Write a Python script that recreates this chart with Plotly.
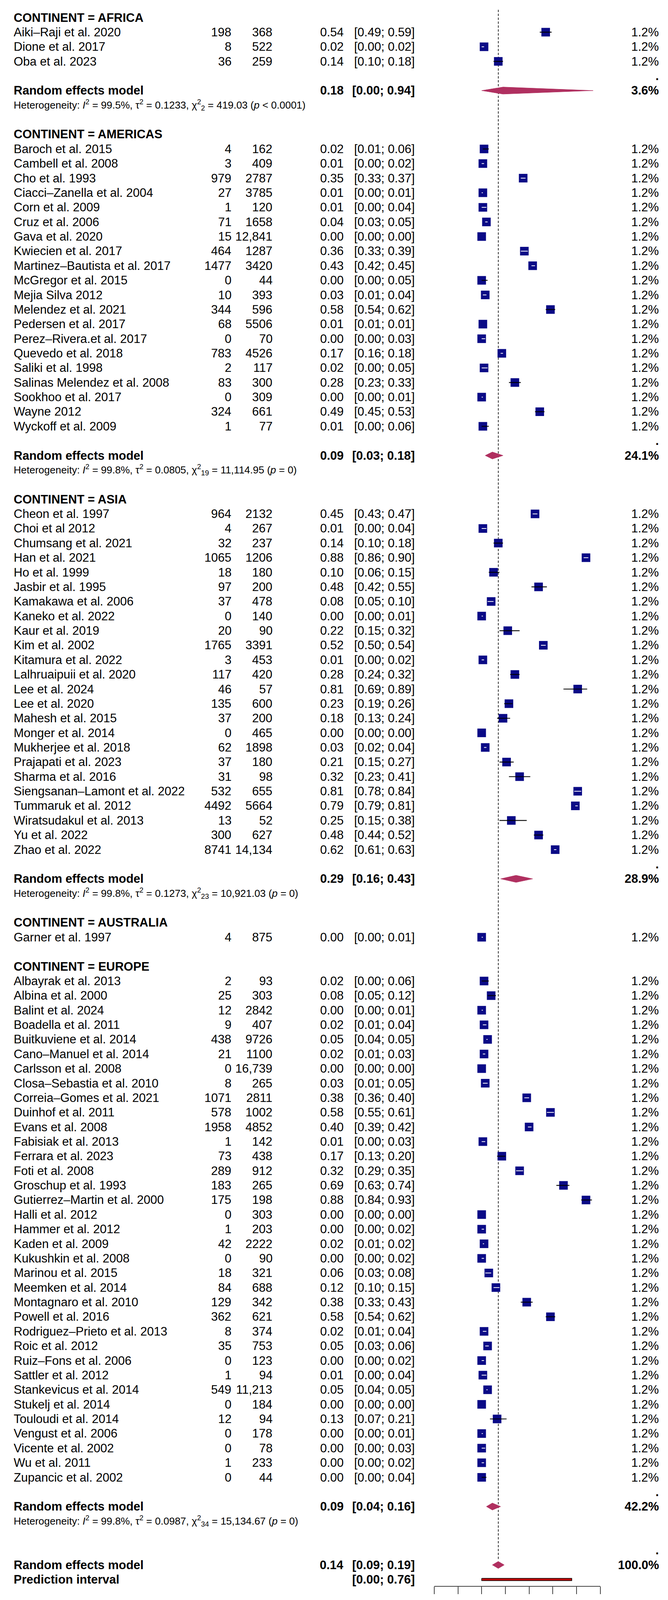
import plotly.graph_objects as go

# ---------------- data ----------------
africa_study = ["Aiki–Raji et al. 2020", "Dione et al. 2017", "Oba et al. 2023"]
africa_events = [198, 8, 36]
africa_total = [368, 522, 259]
africa_prop = [0.54, 0.02, 0.14]
africa_lower = [0.49, 0.00, 0.10]
africa_upper = [0.59, 0.02, 0.18]

americas_study = ["Baroch et al. 2015", "Cambell et al. 2008", "Cho et al. 1993",
                  "Ciacci–Zanella et al. 2004", "Corn et al. 2009", "Cruz et al. 2006",
                  "Gava et al. 2020", "Kwiecien et al. 2017", "Martinez–Bautista et al. 2017",
                  "McGregor et al. 2015", "Mejia Silva 2012", "Melendez et al. 2021",
                  "Pedersen et al. 2017", "Perez–Rivera.et al. 2017", "Quevedo et al. 2018",
                  "Saliki et al. 1998", "Salinas Melendez et al. 2008", "Sookhoo et al. 2017",
                  "Wayne 2012", "Wyckoff et al. 2009"]
americas_events = [4, 3, 979, 27, 1, 71, 15, 464, 1477, 0, 10, 344, 68, 0, 783, 2, 83, 0, 324, 1]
americas_total = [162, 409, 2787, 3785, 120, 1658, 12841, 1287, 3420, 44, 393, 596, 5506, 70,
                  4526, 117, 300, 309, 661, 77]
americas_prop = [0.02, 0.01, 0.35, 0.01, 0.01, 0.04, 0.00, 0.36, 0.43, 0.00, 0.03, 0.58, 0.01,
                 0.00, 0.17, 0.02, 0.28, 0.00, 0.49, 0.01]
americas_lower = [0.01, 0.00, 0.33, 0.00, 0.00, 0.03, 0.00, 0.33, 0.42, 0.00, 0.01, 0.54, 0.01,
                  0.00, 0.16, 0.00, 0.23, 0.00, 0.45, 0.00]
americas_upper = [0.06, 0.02, 0.37, 0.01, 0.04, 0.05, 0.00, 0.39, 0.45, 0.05, 0.04, 0.62, 0.01,
                  0.03, 0.18, 0.05, 0.33, 0.01, 0.53, 0.06]

asia_study = ["Cheon et al. 1997", "Choi et al 2012", "Chumsang et al. 2021", "Han et al. 2021",
              "Ho et al. 1999", "Jasbir et al. 1995", "Kamakawa et al. 2006", "Kaneko et al. 2022",
              "Kaur et al. 2019", "Kim et al. 2002", "Kitamura et al. 2022",
              "Lalhruaipuii et al. 2020", "Lee et al. 2024", "Lee et al. 2020",
              "Mahesh et al. 2015", "Monger et al. 2014", "Mukherjee et al. 2018",
              "Prajapati et al. 2023", "Sharma et al. 2016", "Siengsanan–Lamont et al. 2022",
              "Tummaruk et al. 2012", "Wiratsudakul et al. 2013", "Yu et al. 2022",
              "Zhao et al. 2022"]
asia_events = [964, 4, 32, 1065, 18, 97, 37, 0, 20, 1765, 3, 117, 46, 135, 37, 0, 62, 37, 31,
               532, 4492, 13, 300, 8741]
asia_total = [2132, 267, 237, 1206, 180, 200, 478, 140, 90, 3391, 453, 420, 57, 600, 200, 465,
              1898, 180, 98, 655, 5664, 52, 627, 14134]
asia_prop = [0.45, 0.01, 0.14, 0.88, 0.10, 0.48, 0.08, 0.00, 0.22, 0.52, 0.01, 0.28, 0.81, 0.23,
             0.18, 0.00, 0.03, 0.21, 0.32, 0.81, 0.79, 0.25, 0.48, 0.62]
asia_lower = [0.43, 0.00, 0.10, 0.86, 0.06, 0.42, 0.05, 0.00, 0.15, 0.50, 0.00, 0.24, 0.69, 0.19,
              0.13, 0.00, 0.02, 0.15, 0.23, 0.78, 0.79, 0.15, 0.44, 0.61]
asia_upper = [0.47, 0.04, 0.18, 0.90, 0.15, 0.55, 0.10, 0.01, 0.32, 0.54, 0.02, 0.32, 0.89, 0.26,
              0.24, 0.00, 0.04, 0.27, 0.41, 0.84, 0.81, 0.38, 0.52, 0.63]

australia_study = ["Garner et al. 1997"]
australia_events = [4]
australia_total = [875]
australia_prop = [0.00]
australia_lower = [0.00]
australia_upper = [0.01]

europe_study = ["Albayrak et al. 2013", "Albina et al. 2000", "Balint et al. 2024",
                "Boadella et al. 2011", "Buitkuviene et al. 2014", "Cano–Manuel et al. 2014",
                "Carlsson et al. 2008", "Closa–Sebastia et al. 2010", "Correia–Gomes et al. 2021",
                "Duinhof et al. 2011", "Evans et al. 2008", "Fabisiak et al. 2013",
                "Ferrara et al. 2023", "Foti et al. 2008", "Groschup et al. 1993",
                "Gutierrez–Martin et al. 2000", "Halli et al. 2012", "Hammer et al. 2012",
                "Kaden et al. 2009", "Kukushkin et al. 2008", "Marinou et al. 2015",
                "Meemken et al. 2014", "Montagnaro et al. 2010", "Powell et al. 2016",
                "Rodriguez–Prieto et al. 2013", "Roic et al. 2012", "Ruiz–Fons et al. 2006",
                "Sattler et al. 2012", "Stankevicus et al. 2014", "Stukelj et al. 2014",
                "Touloudi et al. 2014", "Vengust et al. 2006", "Vicente et al. 2002",
                "Wu et al. 2011", "Zupancic et al. 2002"]
europe_events = [2, 25, 12, 9, 438, 21, 0, 8, 1071, 578, 1958, 1, 73, 289, 183, 175, 0, 1, 42,
                 0, 18, 84, 129, 362, 8, 35, 0, 1, 549, 0, 12, 0, 0, 1, 0]
europe_total = [93, 303, 2842, 407, 9726, 1100, 16739, 265, 2811, 1002, 4852, 142, 438, 912, 265,
                198, 303, 203, 2222, 90, 321, 688, 342, 621, 374, 753, 123, 94, 11213, 184, 94,
                178, 78, 233, 44]
europe_prop = [0.02, 0.08, 0.00, 0.02, 0.05, 0.02, 0.00, 0.03, 0.38, 0.58, 0.40, 0.01, 0.17,
               0.32, 0.69, 0.88, 0.00, 0.00, 0.02, 0.00, 0.06, 0.12, 0.38, 0.58, 0.02, 0.05,
               0.00, 0.01, 0.05, 0.00, 0.13, 0.00, 0.00, 0.00, 0.00]
europe_lower = [0.00, 0.05, 0.00, 0.01, 0.04, 0.01, 0.00, 0.01, 0.36, 0.55, 0.39, 0.00, 0.13,
                0.29, 0.63, 0.84, 0.00, 0.00, 0.01, 0.00, 0.03, 0.10, 0.33, 0.54, 0.01, 0.03,
                0.00, 0.00, 0.04, 0.00, 0.07, 0.00, 0.00, 0.00, 0.00]
europe_upper = [0.06, 0.12, 0.01, 0.04, 0.05, 0.03, 0.00, 0.05, 0.40, 0.61, 0.42, 0.03, 0.20,
                0.35, 0.74, 0.93, 0.00, 0.02, 0.02, 0.02, 0.08, 0.15, 0.43, 0.62, 0.04, 0.06,
                0.02, 0.04, 0.05, 0.00, 0.21, 0.01, 0.03, 0.02, 0.04]

study_weight = "1.2%"

continent_names = ["AFRICA", "AMERICAS", "ASIA", "AUSTRALIA", "EUROPE"]
re_prop = [0.18, 0.09, 0.29, None, 0.09]
re_lower = [0.00, 0.03, 0.16, None, 0.04]
re_upper = [0.94, 0.18, 0.43, None, 0.16]
re_weight = ["3.6%", "24.1%", "28.9%", None, "42.2%"]
het_i2 = ["99.5%", "99.8%", "99.8%", None, "99.8%"]
het_tau2 = ["0.1233", "0.0805", "0.1273", None, "0.0987"]
het_df = ["2", "19", "23", None, "34"]
het_q = ["419.03", "11,114.95", "10,921.03", None, "15,134.67"]
het_p = ["&lt; 0.0001", "= 0", "= 0", None, "= 0"]

overall_prop = 0.14
overall_lower = 0.09
overall_upper = 0.19
overall_weight = "100.0%"
pred_lower = 0.00
pred_upper = 0.76

axis_ticks = [-0.4, -0.2, 0, 0.2, 0.4, 0.6, 0.8, 1]
axis_ticklabels = ["−0.4", "", "0", "0.2", "0.4", "0.6", "0.8", "1"]

# ---------------- layout constants ----------------
W, H = 1709, 4159
FONT = "Liberation Sans, Arial, Helvetica, sans-serif"
FS = 31
FS_HET = 26
NAVY = "#0a0a86"
MAROON = "#b03060"
SQ = 22            # square size (px)
PX_PER_UNIT = 303.2
X_NAME, X_EV, X_TOT, X_PROP, X_CI, X_W = 25, 586, 691, 873, 1055, 1680

ROW_PX = 37.37
TOP_PX = 37
AXIS_PX = 4052
TICKLABEL_PX = 4113

groups = [
    (africa_study, africa_events, africa_total, africa_prop, africa_lower, africa_upper),
    (americas_study, americas_events, americas_total, americas_prop, americas_lower, americas_upper),
    (asia_study, asia_events, asia_total, asia_prop, asia_lower, asia_upper),
    (australia_study, australia_events, australia_total, australia_prop, australia_lower, australia_upper),
    (europe_study, europe_events, europe_total, europe_prop, europe_lower, europe_upper),
]

annotations = []


def txt(xpx, row, text, anchor, size=FS, bold=False):
    if bold:
        text = "<b>" + text + "</b>"
    annotations.append(dict(x=xpx / W, xref="paper", y=row, yref="y", text=text,
                            xanchor=anchor, yanchor="middle", showarrow=False,
                            font=dict(family=FONT, size=size, color="black")))


def fmt_n(n):
    return f"{n:,}" if n >= 10000 else str(n)


sq_x, sq_y = [], []
ci_black_x, ci_black_y, ci_white_x, ci_white_y = [], [], [], []
diamonds = []
dot_rows = []
half_sq = (SQ / 2) / PX_PER_UNIT

row = 0
for gi, (names, ev, tot, pr, lo, hi) in enumerate(groups):
    txt(X_NAME, row, "CONTINENT = " + continent_names[gi], "left", bold=True)
    row += 1
    for i in range(len(names)):
        txt(X_NAME, row, names[i], "left")
        txt(X_EV, row, str(ev[i]), "right")
        txt(X_TOT, row, fmt_n(tot[i]), "right")
        txt(X_PROP, row, f"{pr[i]:.2f}", "right")
        txt(X_CI, row, f"[{lo[i]:.2f}; {hi[i]:.2f}]", "right")
        txt(X_W, row, study_weight, "right")
        sq_x.append(pr[i])
        sq_y.append(row)
        inside = (pr[i] - lo[i] <= half_sq) and (hi[i] - pr[i] <= half_sq)
        if inside:
            ci_white_x += [lo[i], hi[i], None]
            ci_white_y += [row, row, None]
        else:
            ci_black_x += [lo[i], hi[i], None]
            ci_black_y += [row, row, None]
        row += 1
    row += 1
    if re_prop[gi] is not None:
        dot_rows.append(row - 1)
        txt(X_NAME, row, "Random effects model", "left", bold=True)
        txt(X_PROP, row, f"{re_prop[gi]:.2f}", "right", bold=True)
        txt(X_CI, row, f"[{re_lower[gi]:.2f}; {re_upper[gi]:.2f}]", "right", bold=True)
        txt(X_W, row, re_weight[gi], "right", bold=True)
        diamonds.append((re_lower[gi], re_prop[gi], re_upper[gi], row))
        row += 1
        het = (f"Heterogeneity: <i>I</i><sup>2</sup> = {het_i2[gi]}, τ<sup>2</sup> = {het_tau2[gi]}, "
               f"χ<sup>2</sup><sub>{het_df[gi]}</sub> = {het_q[gi]} (<i>p</i> {het_p[gi]})")
        txt(X_NAME, row, het, "left", size=FS_HET)
        row += 1
        row += 1

dot_rows.append(row)
overall_row = row + 1
pred_row = overall_row + 1
txt(X_NAME, overall_row, "Random effects model", "left", bold=True)
txt(X_PROP, overall_row, f"{overall_prop:.2f}", "right", bold=True)
txt(X_CI, overall_row, f"[{overall_lower:.2f}; {overall_upper:.2f}]", "right", bold=True)
txt(X_W, overall_row, overall_weight, "right", bold=True)
diamonds.append((overall_lower, overall_prop, overall_upper, overall_row))
txt(X_NAME, pred_row, "Prediction interval", "left", bold=True)
txt(X_CI, pred_row, f"[{pred_lower:.2f}; {pred_upper:.2f}]", "right", bold=True)
for r in dot_rows:
    txt(X_W, r, ".", "right", bold=True)

# x-axis tick labels (placed under the axis ticks)
for tv, tl in zip(axis_ticks, axis_ticklabels):
    if tl:
        annotations.append(dict(x=tv, xref="x", y=(AXIS_PX - TICKLABEL_PX) / AXIS_PX,
                                yref="paper", text=tl, xanchor="center", yanchor="middle",
                                showarrow=False, font=dict(family=FONT, size=31, color="black")))

y_bottom = (AXIS_PX - TOP_PX) / ROW_PX
y_top = (0 - TOP_PX) / ROW_PX

fig = go.Figure()

# reference (dashed) line at overall estimate
fig.add_trace(go.Scatter(x=[overall_prop, overall_prop],
                         y=[(17 - TOP_PX) / ROW_PX, overall_row - 0.3],
                         mode="lines", line=dict(color="black", width=1.6, dash="6px,4px"),
                         hoverinfo="skip", showlegend=False, cliponaxis=False))

fig.add_trace(go.Scatter(x=sq_x, y=sq_y, mode="markers",
                         marker=dict(symbol="square", size=SQ, color=NAVY,
                                     line=dict(width=0)),
                         hoverinfo="skip", showlegend=False, cliponaxis=False))
fig.add_trace(go.Scatter(x=ci_black_x, y=ci_black_y, mode="lines",
                         line=dict(color="black", width=2.2),
                         hoverinfo="skip", showlegend=False, cliponaxis=False))
fig.add_trace(go.Scatter(x=ci_white_x, y=ci_white_y, mode="lines",
                         line=dict(color="white", width=2),
                         hoverinfo="skip", showlegend=False, cliponaxis=False))

DH = 9 / ROW_PX
for lo_, est_, hi_, r in diamonds:
    fig.add_trace(go.Scatter(x=[lo_, est_, hi_, est_, lo_], y=[r, r - DH, r, r + DH, r],
                             mode="lines", fill="toself", fillcolor=MAROON,
                             line=dict(color=MAROON, width=1),
                             hoverinfo="skip", showlegend=False, cliponaxis=False))

PH = 3 / ROW_PX
fig.add_trace(go.Scatter(x=[pred_lower, pred_upper, pred_upper, pred_lower, pred_lower],
                         y=[pred_row - PH, pred_row - PH, pred_row + PH, pred_row + PH, pred_row - PH],
                         mode="lines", fill="toself", fillcolor="#c00000",
                         line=dict(color="black", width=1.5),
                         hoverinfo="skip", showlegend=False, cliponaxis=False))

fig.update_layout(
    width=W, height=H,
    margin=dict(l=0, r=0, t=0, b=H - AXIS_PX, pad=0),
    paper_bgcolor="white", plot_bgcolor="white",
    showlegend=False,
    annotations=annotations,
    font=dict(family=FONT, size=FS, color="black"),
    xaxis=dict(domain=[1103 / W, 1527.6 / W], range=[-0.4, 1],
               tickvals=axis_ticks, showticklabels=False,
               ticks="outside", ticklen=19, tickwidth=2, tickcolor="#444",
               showline=True, linecolor="#444", linewidth=2,
               showgrid=False, zeroline=False, fixedrange=True),
    yaxis=dict(range=[y_bottom, y_top], visible=False, showgrid=False, zeroline=False,
               fixedrange=True),
)

fig.write_html("out.html")
